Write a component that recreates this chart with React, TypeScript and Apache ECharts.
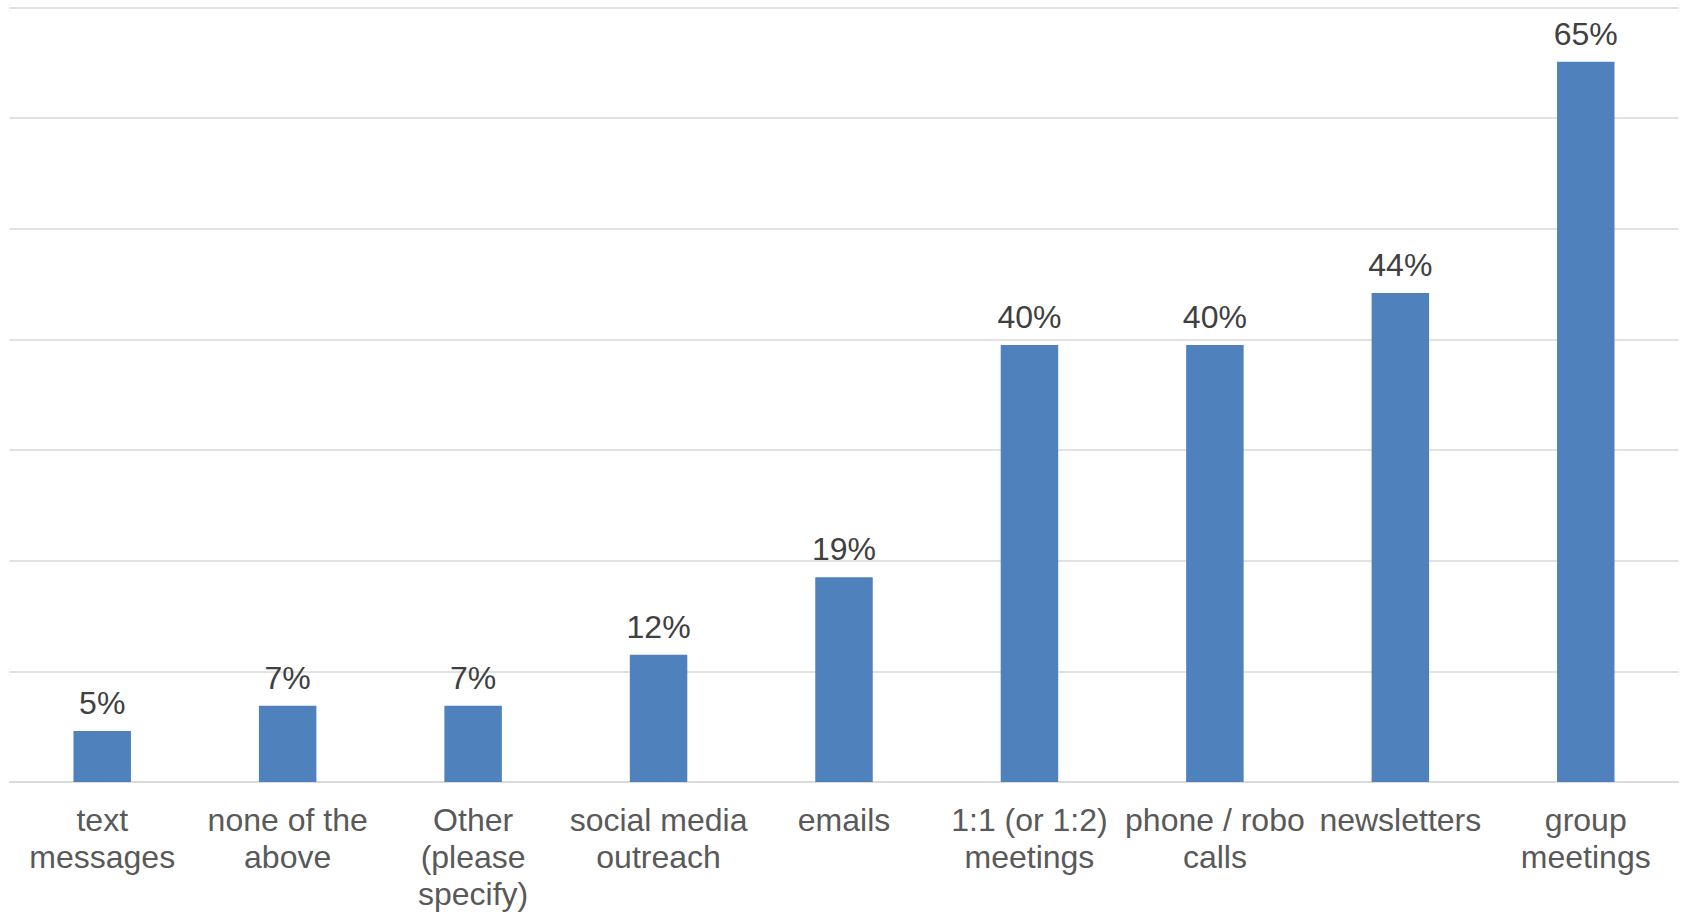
import React, { useEffect, useRef } from "react";
import * as echarts from "echarts";

const categories = [
  "text\nmessages",
  "none of the\nabove",
  "Other\n(please\nspecify)",
  "social media\noutreach",
  "emails",
  "1:1 (or 1:2)\nmeetings",
  "phone / robo\ncalls",
  "newsletters",
  "group\nmeetings",
];
const values = [4.6, 6.9, 6.9, 11.5, 18.5, 39.5, 39.5, 44.2, 65.1];

export default function App() {
  const ref = useRef<HTMLDivElement>(null);
  useEffect(() => {
    if (!ref.current) return;
    const chart = echarts.init(ref.current, undefined, { renderer: "svg" });
    chart.setOption({
      animation: false,
      backgroundColor: "#ffffff",
      textStyle: { fontFamily: "Liberation Sans, Arial, sans-serif" },
      grid: { left: 9.5, right: 4.5, top: 7.5, bottom: 128.5, containLabel: false },
      xAxis: {
        type: "category",
        data: categories,
        axisLine: { show: true, lineStyle: { color: "#d9d9d9", width: 1.5 } },
        axisTick: { show: false },
        axisLabel: {
          interval: 0,
          color: "#595959",
          fontSize: 32,
          lineHeight: 37,
          margin: 19,
          fontFamily: "Liberation Sans, Arial, sans-serif",
        },
      },
      yAxis: {
        type: "value",
        min: 0,
        max: 70,
        interval: 10,
        axisLabel: { show: false },
        axisLine: { show: false },
        axisTick: { show: false },
        splitLine: { show: true, lineStyle: { color: "#d9d9d9", width: 1.5 } },
      },
      series: [
        {
          type: "bar",
          data: values,
          barWidth: "31%",
          itemStyle: { color: "#4f81bd" },
          label: {
            show: true,
            position: "top",
            distance: 12,
            formatter: (p: any) => Math.round(p.value) + "%",
            color: "#404040",
            fontSize: 32,
            lineHeight: 32,
            fontFamily: "Liberation Sans, Arial, sans-serif",
          },
        },
      ],
    });
    return () => chart.dispose();
  }, []);
  return (
    <div
      ref={ref}
      style={{ position: "fixed", left: 0, top: 0, width: 1683, height: 912, background: "#fff" }}
    />
  );
}
